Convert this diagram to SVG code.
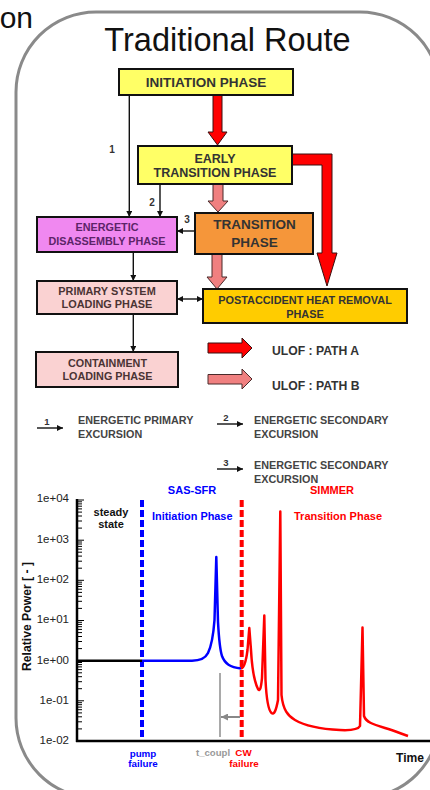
<svg xmlns="http://www.w3.org/2000/svg" width="430" height="790" viewBox="0 0 430 790">
  <defs>
    <style>
      .b { font-family: "Liberation Sans", Arial, sans-serif; font-weight: bold; }
      .r { font-family: "Liberation Sans", Arial, sans-serif; }
      .box { stroke: #111; stroke-width: 2; }
      .lbl { fill: #333; text-anchor: middle; }
      .leg { fill: #444; font-size: 10.8px; }
      .thin { stroke: #111; stroke-width: 1.4; fill: none; }
      .blockA { fill: #ff0000; stroke: #3a1010; stroke-width: 1; }
      .blockB { fill: #f08080; stroke: #4a2a2a; stroke-width: 1; }
      .tick { fill: #222; font-size: 11.5px; text-anchor: end; }
    </style>
    <marker id="ah" viewBox="0 0 6 6" refX="6" refY="3" markerWidth="6" markerHeight="6" markerUnits="userSpaceOnUse" orient="auto-start-reverse">
      <path d="M0,0 L6,3 L0,6 z" fill="#111"/>
    </marker>
    <marker id="ahg" viewBox="0 0 6 6" refX="6" refY="3" markerWidth="7" markerHeight="7" markerUnits="userSpaceOnUse" orient="auto">
      <path d="M0,0 L6,3 L0,6 z" fill="#888"/>
    </marker>
  </defs>

  <rect x="0" y="0" width="430" height="790" fill="#ffffff"/>

  <!-- frame -->
  <rect x="16" y="12" width="424" height="786" rx="80" ry="80" fill="none" stroke="#8a8a8a" stroke-width="3"/>
  <text class="r" x="33" y="28" font-size="30" text-anchor="end" fill="#111">on</text>
  <text class="r" x="227.5" y="51" font-size="32.5" text-anchor="middle" fill="#111">Traditional Route</text>

  <!-- connectors -->
  <g id="connectors">
    <!-- block arrows, path A -->
    <polygon class="blockA" points="213,95 222,95 222,132 227,132 217.5,145 208,132 213,132"/>
    <polygon class="blockA" points="292,154 332,154 332,253 337,253 327,286 317,253 322,253 322,165 292,165"/>
    <!-- block arrows, path B -->
    <polygon class="blockB" points="213,184 223,184 223,201 228,201 218,212 208,201 213,201"/>
    <polygon class="blockB" points="212,254 222,254 222,277 227,277 217,289 207,277 212,277"/>
    <!-- numbered thin arrows -->
    <line class="thin" x1="129.3" y1="95" x2="129.3" y2="217" marker-end="url(#ah)"/>
    <line class="thin" x1="160" y1="184" x2="160" y2="217" marker-end="url(#ah)"/>
    <line class="thin" x1="195" y1="231" x2="177" y2="231" marker-end="url(#ah)"/>
    <line class="thin" x1="133.3" y1="252" x2="133.3" y2="281" marker-end="url(#ah)"/>
    <line class="thin" x1="177" y1="299" x2="203" y2="299" marker-start="url(#ah)" marker-end="url(#ah)"/>
    <line class="thin" x1="133.3" y1="314" x2="133.3" y2="352" marker-end="url(#ah)"/>
    <text class="b lbl" x="112" y="153" font-size="10">1</text>
    <text class="b lbl" x="152" y="206" font-size="10">2</text>
    <text class="b lbl" x="187" y="223" font-size="10">3</text>
  </g>

  <!-- phase boxes -->
  <g id="initiation">
    <rect class="box" x="119" y="69" width="174" height="26" fill="#ffff66"/>
    <text class="b lbl" x="206" y="87" font-size="13.5">INITIATION PHASE</text>
  </g>
  <g id="early-transition">
    <rect class="box" x="138" y="146" width="154" height="38" fill="#ffff66"/>
    <text class="b lbl" x="215" y="162.5" font-size="12.5">EARLY</text>
    <text class="b lbl" x="215" y="177" font-size="12.5">TRANSITION PHASE</text>
  </g>
  <g id="energetic-disassembly">
    <rect class="box" x="37" y="217" width="140" height="35" fill="#f088f0"/>
    <text class="b lbl" x="107" y="230.5" font-size="10.8" fill="#5c2468" style="fill:#5c2468">ENERGETIC</text>
    <text class="b lbl" x="107" y="245" font-size="10.8" style="fill:#5c2468">DISASSEMBLY PHASE</text>
  </g>
  <g id="transition">
    <rect class="box" x="195" y="213" width="118" height="41" fill="#f5963a"/>
    <text class="b lbl" x="254.5" y="229" font-size="13.5">TRANSITION</text>
    <text class="b lbl" x="254.5" y="247.3" font-size="13.5">PHASE</text>
  </g>
  <g id="primary-system-loading">
    <rect class="box" x="37" y="281" width="140" height="33" fill="#fad2d2"/>
    <text class="b lbl" x="107" y="294.5" font-size="10.9" style="fill:#4a3434">PRIMARY SYSTEM</text>
    <text class="b lbl" x="107" y="307.5" font-size="10.9" style="fill:#4a3434">LOADING PHASE</text>
  </g>
  <g id="postaccident-heat-removal">
    <rect class="box" x="203" y="289" width="204" height="34" fill="#ffcc00"/>
    <text class="b lbl" x="305" y="303.5" font-size="10.9">POSTACCIDENT HEAT REMOVAL</text>
    <text class="b lbl" x="305" y="317.5" font-size="10.9">PHASE</text>
  </g>
  <g id="containment-loading">
    <rect class="box" x="36" y="352" width="142" height="35" fill="#fad2d2"/>
    <text class="b lbl" x="107.5" y="367" font-size="10.8" style="fill:#4a3434">CONTAINMENT</text>
    <text class="b lbl" x="107.5" y="380" font-size="10.8" style="fill:#4a3434">LOADING PHASE</text>
  </g>

  <!-- legend -->
  <g id="legend">
    <polygon class="blockA" points="208,343 242,343 242,338 252,348 242,358 242,353 208,353"/>
    <text class="b" x="272" y="355" font-size="12.2" fill="#333">ULOF : PATH A</text>
    <polygon class="blockB" points="208,374.5 242,374.5 242,369 252,379 242,389 242,384 208,384"/>
    <text class="b" x="272" y="390" font-size="12.2" fill="#333">ULOF : PATH B</text>

    <line class="thin" x1="37" y1="428" x2="63" y2="428" marker-end="url(#ah)"/>
    <text class="b" x="47" y="425" font-size="9.5" fill="#333" text-anchor="middle">1</text>
    <text class="b leg" x="78" y="424">ENERGETIC PRIMARY</text>
    <text class="b leg" x="78" y="437.5">EXCURSION</text>

    <line class="thin" x1="217" y1="424" x2="243" y2="424" marker-end="url(#ah)"/>
    <text class="b" x="226" y="421" font-size="9.5" fill="#333" text-anchor="middle">2</text>
    <text class="b leg" x="254" y="424">ENERGETIC SECONDARY</text>
    <text class="b leg" x="254" y="437.5">EXCURSION</text>

    <line class="thin" x1="217" y1="469" x2="243" y2="469" marker-end="url(#ah)"/>
    <text class="b" x="226" y="466" font-size="9.5" fill="#333" text-anchor="middle">3</text>
    <text class="b leg" x="254" y="469">ENERGETIC SECONDARY</text>
    <text class="b leg" x="254" y="483">EXCURSION</text>
  </g>

  <!-- power history plot -->
  <g id="plot">
    <!-- phase markers -->
    <line x1="142" y1="500" x2="142" y2="739" stroke="#0000ff" stroke-width="4" stroke-dasharray="7,3"/>
    <line x1="241.7" y1="500" x2="241.7" y2="741" stroke="#ff0000" stroke-width="4" stroke-dasharray="7,3"/>

    <!-- coupling offset -->
    <line x1="220" y1="673" x2="220" y2="737" stroke="#8c8c8c" stroke-width="1.5"/>
    <line x1="240" y1="717" x2="221" y2="717" stroke="#888" stroke-width="2" marker-end="url(#ahg)"/>

    <!-- curves -->
    <line x1="77" y1="660.7" x2="142" y2="660.7" stroke="#000" stroke-width="2.5"/>
    <path d="M142,660.7 L192,660.7 C200,660.7 205,659 208,653 C211,647 213,640 214.5,620 L216.3,557 L218,622 C219,640 220,650 222,656 C225,664 230,667 241,668.5" fill="none" stroke="#0000ff" stroke-width="2.5" stroke-linejoin="round"/>
    <path d="M241,668.5 C244,668 246,662 247.5,650 L249.3,628 L251,650 C252,668 255,683 258,689 C260,692 261,688 262,678 L264.3,615.5 L265.5,680 C266.5,700 268,710 271.5,713 C274,715 276,711 278,700 L280.3,511.5 L281.5,695 C283,710 288,716 295,720 C305,726 320,729 340,730 C350,730.5 358,730 360,726 L362.5,627.5 L364,716 C366,722 372,724 385,728 C395,731 402,734 408,736" fill="none" stroke="#ff0000" stroke-width="2.5" stroke-linejoin="round"/>

    <!-- axes -->
    <line x1="77" y1="499" x2="77" y2="742" stroke="#000" stroke-width="2.5"/>
    <line x1="76" y1="741" x2="430" y2="741" stroke="#000" stroke-width="2.5"/>
    <path stroke="#000" stroke-width="1" fill="none" d="
      M77,500h7 M77,540.2h7 M77,580.3h7 M77,620.5h7 M77,660.7h7 M77,700.8h7
      M77,728.9h5 M77,721.8h5 M77,716.8h5 M77,712.9h5 M77,709.7h5 M77,707.1h5 M77,704.7h5 M77,702.7h5
      M77,688.7h5 M77,681.7h5 M77,676.7h5 M77,672.8h5 M77,669.6h5 M77,666.9h5 M77,664.6h5 M77,662.5h5
      M77,648.6h5 M77,641.5h5 M77,636.5h5 M77,632.6h5 M77,629.4h5 M77,626.7h5 M77,624.4h5 M77,622.3h5
      M77,608.4h5 M77,601.3h5 M77,596.3h5 M77,592.4h5 M77,589.2h5 M77,586.5h5 M77,584.2h5 M77,582.2h5
      M77,568.2h5 M77,561.2h5 M77,556.1h5 M77,552.2h5 M77,549.1h5 M77,546.4h5 M77,544.0h5 M77,542.0h5
      M77,528.1h5 M77,521.0h5 M77,516.0h5 M77,512.1h5 M77,508.9h5 M77,506.2h5 M77,503.9h5 M77,501.8h5"/>

    <text class="r tick" x="69" y="502">1e+04</text>
    <text class="r tick" x="69" y="543">1e+03</text>
    <text class="r tick" x="69" y="583">1e+02</text>
    <text class="r tick" x="69" y="623">1e+01</text>
    <text class="r tick" x="69" y="663.5">1e+00</text>
    <text class="r tick" x="69" y="703.5">1e-01</text>
    <text class="r tick" x="69" y="744">1e-02</text>

    <text class="b" transform="translate(31,616.5) rotate(-90)" font-size="12.2" text-anchor="middle" fill="#111">Relative Power [ - ]</text>

    <!-- annotations -->
    <text class="b" x="111" y="516" font-size="11" text-anchor="middle" fill="#111">steady</text>
    <text class="b" x="111" y="528" font-size="11" text-anchor="middle" fill="#111">state</text>
    <text class="b" x="192" y="494" font-size="11" text-anchor="middle" fill="#0000ff">SAS-SFR</text>
    <text class="b" x="152" y="520" font-size="10.9" fill="#0000ff">Initiation Phase</text>
    <text class="b" x="332" y="494" font-size="11" text-anchor="middle" fill="#ff0000">SIMMER</text>
    <text class="b" x="294" y="520" font-size="11" fill="#ff0000">Transition Phase</text>

    <text class="b" x="143" y="756.5" font-size="9.8" text-anchor="middle" fill="#0000ff">pump</text>
    <text class="b" x="143" y="767" font-size="9.8" text-anchor="middle" fill="#0000ff">failure</text>
    <text class="b" x="213" y="756" font-size="9.6" text-anchor="middle" fill="#999">t_coupl</text>
    <text class="b" x="243.5" y="755.5" font-size="9.8" text-anchor="middle" fill="#ff0000">CW</text>
    <text class="b" x="244" y="766.5" font-size="9.8" text-anchor="middle" fill="#ff0000">failure</text>
    <text class="b" x="396" y="762" font-size="12.1" fill="#111">Time</text>
  </g>
</svg>
